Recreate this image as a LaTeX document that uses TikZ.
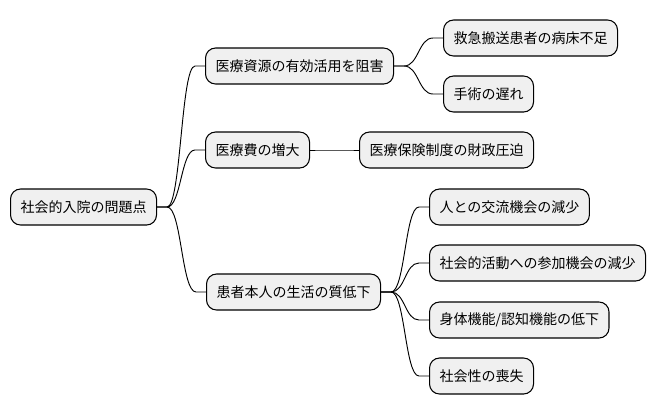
\documentclass[tikz,border=0pt]{standalone}
\usepackage{fontspec}
\setmainfont{Noto Sans CJK JP}
\usetikzlibrary{calc}
\tikzset{
  topic/.style={draw=black,line width=0.8pt,fill=black!6,rounded corners=7.5pt,
    anchor=west,minimum height=27pt,inner xsep=7.5pt,font=\fontsize{10.5}{12}\selectfont},
  branch/.style={to path={let \p1=(\tikztostart), \p2=(\tikztotarget) in
    -- ++(7.5pt,0) .. controls ({\x1/2+\x2/2},\y1) and ({\x1/2+\x2/2},\y2) .. ($(\p2)-(7.5pt,0)$) -- (\p2)}}
}
\begin{document}
\begin{tikzpicture}[x=0.75pt,y=-0.75pt]
   \useasboundingbox (0,0) rectangle (656,415);
   % root and first level
   \node [topic] (root) at (10,207) {社会的入院の問題点};
   \node [topic] (resource) at (205,66) {医療資源の有効活用を阻害};
   \node [topic] (cost) at (205,150) {医療費の増大};
   \node [topic] (qol) at (206,292) {患者本人の生活の質低下};
   % second level
   \node [topic] (bedshort) at (443,38) {救急搬送患者の病床不足};
   \node [topic] (surgery) at (443,94) {手術の遅れ};
   \node [topic] (insurance) at (359,150) {医療保険制度の財政圧迫};
   \node [topic] (contact) at (429,207) {人との交流機会の減少};
   \node [topic] (activity) at (429,263) {社会的活動への参加機会の減少};
   \node [topic] (function) at (429,320) {身体機能/認知機能の低下};
   \node [topic] (social) at (429,376) {社会性の喪失};
   % connectors
   \draw [line width=0.7pt] (root.east) to[branch] (resource.west);
   \draw [line width=0.7pt] (root.east) to[branch] (cost.west);
   \draw [line width=0.7pt] (root.east) to[branch] (qol.west);
   \draw [line width=0.7pt] (resource.east) to[branch] (bedshort.west);
   \draw [line width=0.7pt] (resource.east) to[branch] (surgery.west);
   \draw [line width=0.7pt] (cost.east) to[branch] (insurance.west);
   \draw [line width=0.7pt] (qol.east) to[branch] (contact.west);
   \draw [line width=0.7pt] (qol.east) to[branch] (activity.west);
   \draw [line width=0.7pt] (qol.east) to[branch] (function.west);
   \draw [line width=0.7pt] (qol.east) to[branch] (social.west);
\end{tikzpicture}
\end{document}
